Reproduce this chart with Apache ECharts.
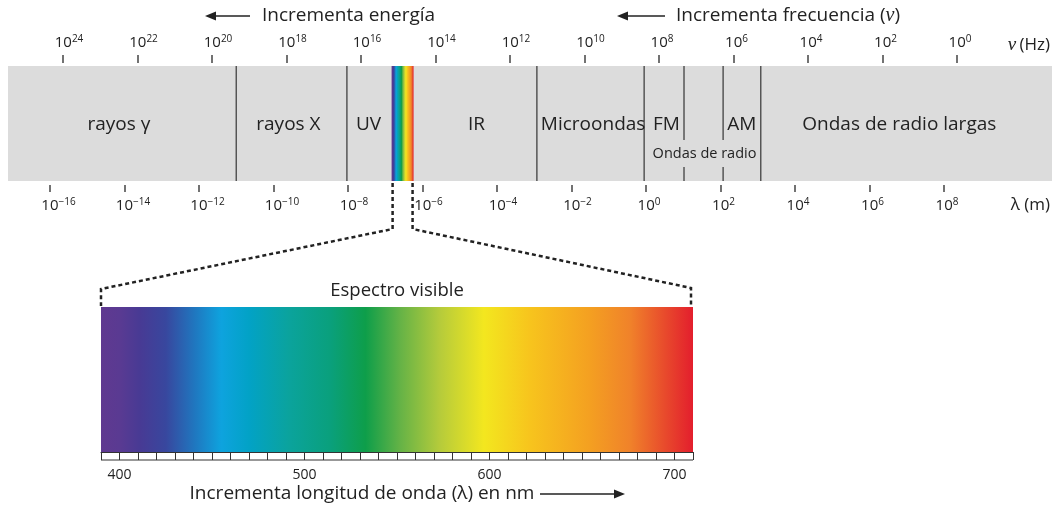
<!DOCTYPE html>
<html>
<head>
<meta charset="utf-8">
<script src="https://cdn.jsdelivr.net/npm/echarts@6/dist/echarts.min.js"></script>
<style>
  html, body { margin: 0; padding: 0; background: #fff; }
  #chart { width: 1055px; height: 508px; }
</style>
</head>
<body>
<div id="chart"></div>
<script>
// Electromagnetic spectrum on log10 scales: wavelength λ (m) below, frequency ν (Hz) above.
const lambdaTicks = [-16, -14, -12, -10, -8, -6, -4, -2, 0, 2, 4, 6, 8];
const nuTicks = [24, 22, 20, 18, 16, 14, 12, 10, 8, 6, 4, 2, 0];

// Borders between regions, in log10(λ / m)
const regionBorders = [-11, -8.03, -2.93, -0.05, 3.08];
const radioBorders = [1.02, 2.07];          // FM | ... | AM inside "Ondas de radio"
const visibleBand = [-6.83, -6.24];

const regionNames = ['rayos γ', 'rayos X', 'UV', 'IR', 'Microondas', 'FM', 'AM', 'Ondas de radio largas'];
const regionCenters = [-14.15, -9.6, -7.45, -4.55, -1.42, 0.55, 2.57, 6.8];
const radioGroupName = 'Ondas de radio';
const radioGroupCenter = 1.57;

// Visible spectrum, wavelength in nm
const visibleRange = [390, 710];
const nmLabels = [400, 500, 600, 700];
const spectrumNm = [390, 400, 411, 425, 441, 455, 470, 492, 514, 533, 552, 573, 597, 622, 654, 676, 695, 710];
const spectrumColors = ['#5f3990', '#5a3a92', '#483a94', '#38479e', '#1f78c0', '#0ea3de', '#02a2c6', '#0ba39c', '#0aa07c',
                        '#0e9e4a', '#66b346', '#b5cb3b', '#f3e71f', '#f7c41d', '#f4a021', '#f0822a', '#e84a2c', '#e31e2d'];

const FONT = 'Open Sans';
const INK = '#222';

const supChars = { '-': '\u2212' };
function powerLabel(exp) {
  const s = String(exp).split('').map(c => supChars[c] || c).join('');
  return '{p' + s.length + '|}{b|10}{s|' + s + '}';
}
const powerRich = {
  b: { fontFamily: FONT, fontSize: 15, color: INK, lineHeight: 18 },
  s: { fontFamily: FONT, fontSize: 10, color: INK, lineHeight: 10, verticalAlign: 'top' },
  p1: { width: 6 }, p2: { width: 12 }, p3: { width: 17 }
};

function spectrumGradient() {
  const lo = visibleRange[0], hi = visibleRange[1];
  return {
    type: 'linear', x: 0, y: 0, x2: 1, y2: 0,
    colorStops: spectrumNm.map((nm, i) => ({ offset: (nm - lo) / (hi - lo), color: spectrumColors[i] }))
  };
}

const chart = echarts.init(document.getElementById('chart'), null, { renderer: 'canvas' });

const option = {
  animation: false,
  backgroundColor: '#fff',
  grid: [
    { left: 8, right: 3, top: 66, height: 115, show: true, backgroundColor: '#dcdcdc', borderWidth: 0 },
    { left: 101, width: 592, top: 307, height: 145 }
  ],
  xAxis: [
    { // λ (m), below the band
      gridIndex: 0, type: 'value', position: 'bottom', offset: 4,
      min: -17.128, max: 10.899,
      axisLine: { show: false, onZero: false },
      axisTick: { show: true, length: 7, customValues: lambdaTicks, lineStyle: { color: '#444', width: 1.5 } },
      axisLabel: { customValues: lambdaTicks, margin: 12, formatter: v => powerLabel(v), rich: powerRich },
      splitLine: { show: false }
    },
    { // ν (Hz), above the band
      gridIndex: 0, type: 'value', position: 'top', offset: 3, inverse: true,
      min: -2.55, max: 25.477,
      axisLine: { show: false, onZero: false },
      axisTick: { show: true, length: 8, customValues: nuTicks, lineStyle: { color: '#444', width: 1.5 } },
      axisLabel: { customValues: nuTicks, margin: 11, formatter: v => powerLabel(v), rich: powerRich },
      splitLine: { show: false }
    },
    { // nm ruler under the visible spectrum
      gridIndex: 1, type: 'value', position: 'bottom', offset: 0, z: 5,
      min: visibleRange[0], max: visibleRange[1], interval: 10,
      axisLine: { show: true, onZero: false, lineStyle: { color: '#333', width: 1 } },
      axisTick: { show: true, length: 8, lineStyle: { color: '#333', width: 1 } },
      axisLabel: {
        margin: 16, color: INK, fontFamily: FONT, fontSize: 14,
        formatter: v => (nmLabels.indexOf(v) >= 0 ? String(v) : '')
      },
      splitLine: { show: false }
    }
  ],
  yAxis: [
    { gridIndex: 0, type: 'value', min: 0, max: 1, show: false },
    { gridIndex: 1, type: 'value', min: 0, max: 1, show: false }
  ],
  series: [
    { // full-height region borders
      type: 'custom', xAxisIndex: 0, yAxisIndex: 0, silent: true,
      data: regionBorders.map(v => [v]),
      renderItem: (params, api) => {
        const x = api.value(0);
        const a = api.coord([x, 1]), b = api.coord([x, 0]);
        return { type: 'line', shape: { x1: a[0], y1: a[1], x2: b[0], y2: b[1] },
                 style: { stroke: '#555', lineWidth: 1.5 } };
      }
    },
    { // radio sub-borders, interrupted by the group caption
      type: 'custom', xAxisIndex: 0, yAxisIndex: 0, silent: true,
      data: radioBorders.map(v => [v]),
      renderItem: (params, api) => {
        const x = api.value(0);
        const t = api.coord([x, 1]), m1 = api.coord([x, 0.357]), m2 = api.coord([x, 0.122]), b = api.coord([x, 0]);
        const st = { stroke: '#555', lineWidth: 1.5 };
        return { type: 'group', children: [
          { type: 'line', shape: { x1: t[0], y1: t[1], x2: m1[0], y2: m1[1] }, style: st },
          { type: 'line', shape: { x1: m2[0], y1: m2[1], x2: b[0], y2: b[1] }, style: st }
        ] };
      }
    },
    { // visible slice inside the band
      type: 'custom', xAxisIndex: 0, yAxisIndex: 0, silent: true,
      data: [visibleBand],
      renderItem: (params, api) => {
        const a = api.coord([api.value(0), 1]), b = api.coord([api.value(1), 0]);
        return { type: 'rect', shape: { x: a[0], y: a[1], width: b[0] - a[0], height: b[1] - a[1] },
                 style: { fill: spectrumGradient() } };
      }
    },
    { // region names
      type: 'custom', xAxisIndex: 0, yAxisIndex: 0, silent: true,
      data: regionCenters.map((c, i) => ({ value: [c, 0.49], name: regionNames[i] }))
        .concat([{ value: [radioGroupCenter, 0.235], name: radioGroupName }]),
      renderItem: (params, api) => {
        const p = api.coord([api.value(0), api.value(1)]);
        const small = params.dataIndex === regionNames.length;
        const name = small ? radioGroupName : regionNames[params.dataIndex];
        return { type: 'text', x: p[0], y: p[1],
                 style: { text: name, fill: INK, fontFamily: FONT, fontSize: small ? 14.5 : 19,
                          align: 'center', verticalAlign: 'middle' } };
      }
    },
    { // visible spectrum
      type: 'custom', xAxisIndex: 2, yAxisIndex: 1, silent: true, z: 1,
      data: [visibleRange],
      renderItem: (params, api) => {
        const a = api.coord([api.value(0), 1]), b = api.coord([api.value(1), 0]);
        return { type: 'rect', shape: { x: a[0], y: a[1], width: b[0] - a[0], height: b[1] - a[1] },
                 style: { fill: spectrumGradient() } };
      }
    },
    { // lower rule closing the nm tick boxes
      type: 'custom', xAxisIndex: 2, yAxisIndex: 1, silent: true,
      data: [visibleRange],
      renderItem: (params, api) => {
        const a = api.coord([api.value(0), 0]), b = api.coord([api.value(1), 0]);
        const y = a[1] + 8;
        return { type: 'line', shape: { x1: a[0], y1: y, x2: b[0], y2: y },
                 style: { stroke: '#333', lineWidth: 1 } };
      }
    }
  ]
};

chart.setOption(option);

// Dashed connectors from the visible slice of the band to the enlarged spectrum
const bandBottom = chart.convertToPixel({ yAxisIndex: 0 }, 0);
const sL = chart.convertToPixel({ xAxisIndex: 0 }, visibleBand[0]);
const sR = chart.convertToPixel({ xAxisIndex: 0 }, visibleBand[1]);
const vL = chart.convertToPixel({ xAxisIndex: 2 }, visibleRange[0]);
const vR = chart.convertToPixel({ xAxisIndex: 2 }, visibleRange[1]);
const vTop = chart.convertToPixel({ yAxisIndex: 1 }, 1);
const dash = { stroke: '#222', lineWidth: 2.5, lineDash: [4, 3], fill: null };

function arrow(x1, x2, y) {
  const dir = Math.sign(x2 - x1);
  return [
    { type: 'line', shape: { x1: x1, y1: y, x2: x2 - dir * 8, y2: y }, style: { stroke: INK, lineWidth: 1.6 } },
    { type: 'polygon', shape: { points: [[x2, y], [x2 - dir * 11, y - 4.5], [x2 - dir * 11, y + 4.5]] }, style: { fill: INK } }
  ];
}

chart.setOption({
  graphic: [
    { type: 'polyline', shape: { points: [[sL + 1, bandBottom + 2], [sL + 1, 229], [vL, 289], [vL, vTop - 1]] }, style: dash },
    { type: 'polyline', shape: { points: [[sR - 1, bandBottom + 2], [sR - 1, 229], [vR - 2, 288], [vR - 2, vTop - 1]] }, style: dash },
    ...arrow(250, 205, 16),
    { type: 'text', x: 262, y: 16, style: { text: 'Incrementa energía', fill: INK, fontFamily: FONT, fontSize: 19, align: 'left', verticalAlign: 'middle' } },
    ...arrow(665, 617, 16),
    { type: 'text', x: 676, y: 16, style: {
        text: '{a|Incrementa frecuencia (}{n|ν}{a|)}', align: 'left', verticalAlign: 'middle',
        rich: { a: { fill: INK, fontFamily: FONT, fontSize: 19 },
                n: { fill: INK, fontFamily: 'Liberation Serif', fontStyle: 'italic', fontSize: 20 } } } },
    { type: 'text', x: 1050, y: 45, style: {
        text: '{n|ν} {a|(Hz)}', align: 'right', verticalAlign: 'middle',
        rich: { a: { fill: INK, fontFamily: FONT, fontSize: 17 },
                n: { fill: INK, fontFamily: 'Liberation Serif', fontStyle: 'italic', fontSize: 19 } } } },
    { type: 'text', x: 1050, y: 205, style: { text: 'λ (m)', fill: INK, fontFamily: FONT, fontSize: 17, align: 'right', verticalAlign: 'middle' } },
    { type: 'text', x: (vL + vR) / 2, y: 291, style: { text: 'Espectro visible', fill: INK, fontFamily: FONT, fontSize: 18.5, align: 'center', verticalAlign: 'middle' } },
    { type: 'text', x: 362, y: 494, style: { text: 'Incrementa longitud de onda (λ) en nm', fill: INK, fontFamily: FONT, fontSize: 19, align: 'center', verticalAlign: 'middle' } },
    ...arrow(540, 625, 494)
  ]
});
</script>
</body>
</html>
